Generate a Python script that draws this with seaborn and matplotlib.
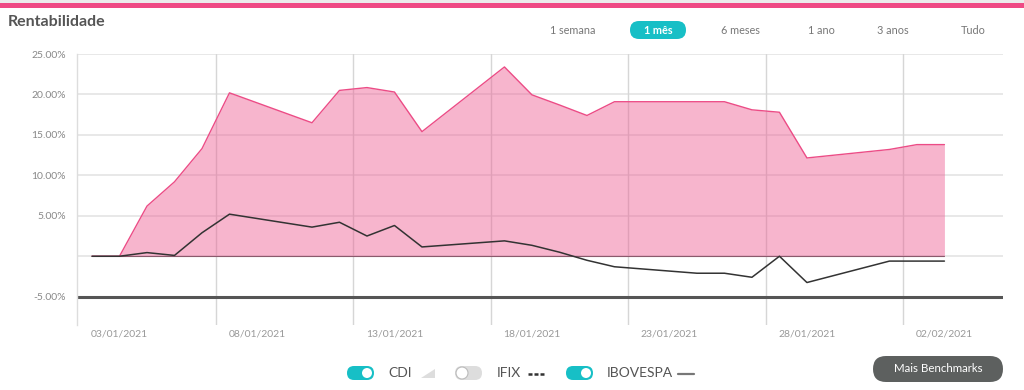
import matplotlib
matplotlib.use("Agg")
import matplotlib.pyplot as plt
import seaborn as sns
import pandas as pd
from matplotlib.patches import FancyBboxPatch, Circle, Polygon, Rectangle

# day index: 0 = 02/01/2021
perf_days = [0, 1, 2, 3, 4, 5, 8, 9, 10, 11, 12, 15, 16, 17, 18, 19, 23, 24, 25, 26, 29, 30, 31]
perf_vals = [0, 0, 6.2, 9.2, 13.3, 20.2, 16.5, 20.5, 20.85, 20.3, 15.4, 23.4, 19.95, 18.7, 17.4,
             19.1, 19.1, 18.1, 17.8, 12.15, 13.2, 13.8, 13.8]

ibov_days = [0, 1, 2, 3, 4, 5, 8, 9, 10, 11, 12, 15, 16, 17, 18, 19, 22, 23, 24, 25, 26, 29, 30, 31]
ibov_vals = [0, 0, 0.45, 0.1, 2.9, 5.2, 3.6, 4.2, 2.5, 3.8, 1.15, 1.9, 1.35, 0.5, -0.5, -1.3,
             -2.1, -2.1, -2.6, 0, -3.25, -0.6, -0.6, -0.6]

cdi_days = [0, 31]
cdi_vals = [0, 0]

y_ticks = [25, 20, 15, 10, 5, -5]
y_labels = ["25.00%", "20.00%", "15.00%", "10.00%", "5.00%", "-5.00%"]
x_ticks = [1, 6, 11, 16, 21, 26, 31]
x_labels = ["03/01/2021", "08/01/2021", "13/01/2021", "18/01/2021",
            "23/01/2021", "28/01/2021", "02/02/2021"]
periods = ["1 semana", "1 mês", "6 meses", "1 ano", "3 anos", "Tudo"]

PINK = "#ec4c86"
PINK_FILL = "#ee5c92"
TEAL = "#17bfc6"

sns.set_theme(style="white")
plt.rcParams["font.family"] = ["Lato", "DejaVu Sans"]

fig = plt.figure(figsize=(10.24, 3.9), dpi=100)

# overlay in pixel coordinates for page decorations
ov = fig.add_axes([0, 0, 1, 1])
ov.set_xlim(0, 1024)
ov.set_ylim(390, 0)
ov.axis("off")
ov.add_patch(Rectangle((0, 0), 1024, 3, color="#ececec", lw=0))
ov.add_patch(Rectangle((0, 3), 1024, 5, color="#ef4a85", lw=0))
ov.text(8, 22, "Rentabilidade", fontsize=11.5, weight="bold", color="#555555", va="center")

period_x = [573, 658, 740, 821, 893, 973]
for lbl, px in zip(periods, period_x):
    if lbl == "1 mês":
        ov.add_patch(FancyBboxPatch((630, 21), 56, 18, boxstyle="round,pad=0,rounding_size=9",
                                    color=TEAL, lw=0))
        ov.text(px, 30, lbl, fontsize=7.8, weight="bold", color="white", ha="center", va="center")
    else:
        ov.text(px, 30, lbl, fontsize=7.8, color="#777777", ha="center", va="center")

# main chart
ax = fig.add_axes([77 / 1024, 1 - 325 / 390, (1003 - 77) / 1024, (325 - 54) / 390])
ax.set_zorder(2)
ax.patch.set_alpha(0)

for y in [25, 20, 15, 10, 5, 0]:
    ax.axhline(y, color="#e4e4e4", lw=1.2, zorder=0)
for k in range(6):
    ax.axvline(4.5 + 5 * k, color="#d6d6d6", lw=1, zorder=0)

ax.fill_between(perf_days, 0, perf_vals, color=PINK_FILL, alpha=0.45, lw=0, zorder=1)
sns.lineplot(x=perf_days, y=perf_vals, ax=ax, color=PINK, lw=1, zorder=3)
sns.lineplot(x=cdi_days, y=cdi_vals, ax=ax, color="#8a5a6c", lw=0.8, zorder=2)
sns.lineplot(x=ibov_days, y=ibov_vals, ax=ax, color="#333333", lw=1.1, zorder=4)
ax.axhline(-5, color="#555555", lw=2.2, zorder=2)

ax.set_xlim(-0.545, 33.13)
ax.set_ylim(-8.5, 25)
ax.set_yticks(y_ticks)
ax.set_yticklabels(y_labels)
ax.set_xticks(x_ticks)
ax.set_xticklabels(x_labels)
ax.tick_params(axis="y", length=0, pad=8, labelsize=7.5, labelcolor="#888888")
ax.tick_params(axis="x", length=0, pad=3, labelsize=7.5, labelcolor="#999999")
ax.set_xlabel("")
ax.set_ylabel("")
for side in ["top", "right", "bottom"]:
    ax.spines[side].set_visible(False)
ax.spines["left"].set_color("#dddddd")
ax.spines["left"].set_linewidth(1)

# legend toggles
def toggle(x0, on):
    if on:
        ov.add_patch(FancyBboxPatch((x0, 366), 27, 14, boxstyle="round,pad=0,rounding_size=7",
                                    color=TEAL, lw=0))
        ov.add_patch(Circle((x0 + 20, 373), 5, color="white", lw=0))
    else:
        ov.add_patch(FancyBboxPatch((x0, 366), 27, 14, boxstyle="round,pad=0,rounding_size=7",
                                    color="#dddddd", lw=0))
        ov.add_patch(Circle((x0 + 7, 373), 6, facecolor="white", edgecolor="#bbbbbb", lw=0.8))

toggle(347, True)
ov.text(388, 373, "CDI", fontsize=10, color="#555555", va="center")
ov.add_patch(Polygon([[421, 378], [435, 378], [435, 369]], color="#dddddd", lw=0))
toggle(455, False)
ov.text(497, 373, "IFIX", fontsize=10, color="#555555", va="center")
for dx in [528, 534, 540]:
    ov.plot([dx, dx + 4], [374, 374], color="#333333", lw=1.8, solid_capstyle="butt")
toggle(566, True)
ov.text(607, 373, "IBOVESPA", fontsize=10, color="#555555", va="center")
ov.plot([678, 694], [374, 374], color="#777777", lw=1.6)

ov.add_patch(FancyBboxPatch((873, 356), 130, 26, boxstyle="round,pad=0,rounding_size=13",
                            color="#5d605f", lw=0))
ov.text(938, 369, "Mais Benchmarks", fontsize=8.3, color="white", ha="center", va="center")

fig.savefig("out.png", dpi=100)
